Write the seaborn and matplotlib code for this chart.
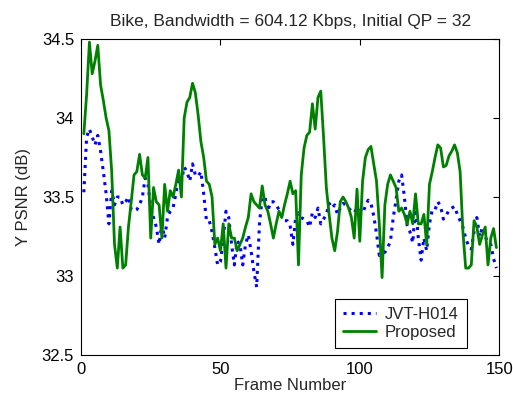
import seaborn as sns
import matplotlib.pyplot as plt
import numpy as np

# Dados (quadro 1..149)
quadros = np.arange(1, 150)

psnr_jvt = [
    33.53, 33.88, 33.93, 33.88, 33.83, 33.89, 33.79, 33.66, 33.52, 33.33,
    33.54, 33.45, 33.50, 33.50, 33.45, 33.47, 33.50, 33.42, 33.41, 33.42,
    33.45, 33.50, 33.62, 33.58, 33.43, 33.37, 33.31, 33.20, 33.33, 33.24,
    33.37, 33.41, 33.43, 33.52, 33.62, 33.60, 33.69, 33.66, 33.60, 33.71,
    33.64, 33.63, 33.66, 33.52, 33.35, 33.35, 33.28, 33.18, 33.07, 33.09,
    33.24, 33.41, 33.37, 33.20, 33.07, 33.22, 33.20, 33.07, 33.20, 33.26,
    33.16, 33.03, 32.93, 33.33, 33.50, 33.50, 33.41, 33.47, 33.47, 33.45,
    33.42, 33.38, 33.35, 33.35, 33.32, 33.20, 33.37, 33.40, 33.37, 33.36,
    33.35, 33.31, 33.40, 33.37, 33.43, 33.33, 33.36, 33.39, 33.46, 33.43,
    33.45, 33.39, 33.43, 33.46, 33.45, 33.43, 33.41, 33.40, 33.43, 33.43,
    33.40, 33.44, 33.48, 33.46, 33.38, 33.27, 33.13, 33.14, 33.15, 33.18,
    33.22, 33.37, 33.48, 33.60, 33.64, 33.50, 33.32, 33.28, 33.21, 33.45,
    33.24, 33.10, 33.24, 33.16, 33.33, 33.42, 33.42, 33.47, 33.44, 33.36,
    33.38, 33.42, 33.43, 33.44, 33.39, 33.35, 33.31, 33.24, 33.19, 33.17,
    33.28, 33.37, 33.25, 33.31, 33.25, 33.21, 33.20, 33.11, 33.05,
]

psnr_proposto = [
    33.90, 34.15, 34.48, 34.28, 34.36, 34.46, 34.21, 34.11, 34.00, 33.92,
    33.66, 33.20, 33.05, 33.31, 33.05, 33.07, 33.31, 33.47, 33.64, 33.66,
    33.77, 33.64, 33.62, 33.75, 33.24, 33.56, 33.47, 33.45, 33.24, 33.58,
    33.41, 33.54, 33.50, 33.58, 33.67, 33.50, 34.00, 34.10, 34.13, 34.22,
    34.16, 34.02, 33.85, 33.75, 33.60, 33.58, 33.50, 33.20, 33.24, 33.16,
    33.33, 33.05, 33.33, 33.24, 33.24, 33.16, 33.20, 33.24, 33.31, 33.37,
    33.52, 33.47, 33.45, 33.43, 33.57, 33.45, 33.41, 33.33, 33.24, 33.33,
    33.41, 33.37, 33.45, 33.52, 33.60, 33.52, 33.54, 33.07, 33.64, 33.81,
    33.89, 33.91, 34.09, 33.93, 34.13, 34.17, 33.88, 33.56, 33.39, 33.24,
    33.16, 33.28, 33.47, 33.50, 33.47, 33.43, 33.37, 33.24, 33.55, 33.22,
    33.60, 33.75, 33.80, 33.82, 33.71, 33.60, 33.33, 32.99, 33.45, 33.58,
    33.64, 33.60, 33.56, 33.41, 33.43, 33.39, 33.33, 33.41, 33.33, 33.52,
    33.33, 33.33, 33.39, 33.20, 33.58, 33.66, 33.75, 33.83, 33.81, 33.69,
    33.70, 33.76, 33.79, 33.83, 33.78, 33.66, 33.28, 33.05, 33.05, 33.07,
    33.35, 33.31, 33.20, 33.26, 33.31, 33.07, 33.24, 33.30, 33.18,
]

xticks = [0, 50, 100, 150]
yticks = [32.5, 33, 33.5, 34, 34.5]
ytick_labels = ["32.5", "33", "33.5", "34", "34.5"]

sns.set_style("white")
plt.rcParams['font.family'] = ['Liberation Sans', 'DejaVu Sans']
plt.rcParams['font.size'] = 12

fig = plt.figure(figsize=(5.13, 4.0), dpi=100)
ax = fig.add_axes([0.158, 0.1125, 0.815, 0.79])

sns.lineplot(x=quadros, y=psnr_jvt, ax=ax, color='#0000ff', linestyle=':',
             linewidth=2.2, label='JVT-H014')
sns.lineplot(x=quadros, y=psnr_proposto, ax=ax, color='#008000', linestyle='-',
             linewidth=2.0, label='Proposed')

ax.set_xlim(0, 150)
ax.set_ylim(32.5, 34.5)
ax.set_xticks(xticks)
ax.set_yticks(yticks)
ax.set_yticklabels(ytick_labels)
ax.tick_params(direction='in', top=True, right=True, length=4, width=0.8,
               labelsize=12, colors='black', pad=5)
for s in ax.spines.values():
    s.set_color('black')
    s.set_linewidth(0.8)

ax.set_xlabel('Frame Number', fontsize=12, labelpad=1)
ax.set_ylabel('Y PSNR (dB)', fontsize=12, labelpad=8)
ax.set_title('Bike, Bandwidth = 604.12 Kbps, Initial QP = 32', fontsize=12.5, pad=9)

leg = ax.legend(loc='lower right', bbox_to_anchor=(0.923, 0.022), borderaxespad=0,
                frameon=True, fancybox=False, handlelength=2.0, handletextpad=0.5,
                fontsize=12, borderpad=0.5, labelspacing=0.15)
leg.get_frame().set_edgecolor('black')
leg.get_frame().set_linewidth(0.8)
leg.get_frame().set_alpha(1)

fig.savefig('out.png', dpi=100)
